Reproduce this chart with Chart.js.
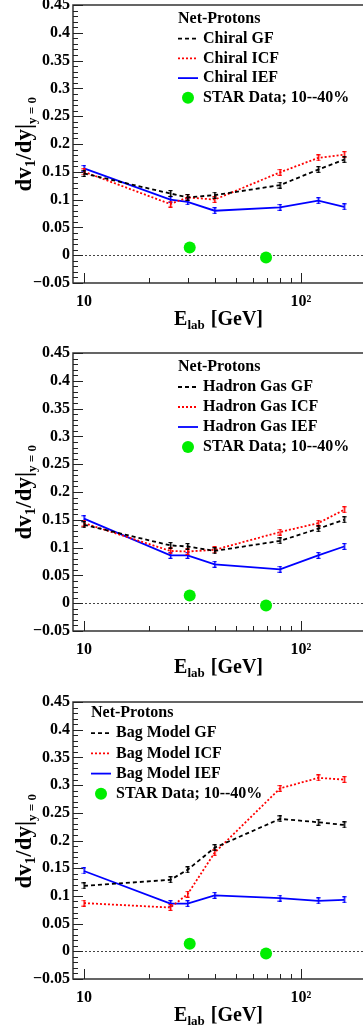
<!DOCTYPE html>
<html>
<head>
<meta charset="utf-8">
<script src="https://cdn.jsdelivr.net/npm/chart.js@4.4.1/dist/chart.umd.min.js"></script>
<style>
  body { margin: 0; background: #fff; }
  canvas { position: absolute; left: 0; }
</style>
</head>
<body>
<canvas id="c1" width="363" height="340" style="top:0px"></canvas>
<canvas id="c2" width="363" height="340" style="top:340px"></canvas>
<canvas id="c3" width="363" height="347" style="top:680px"></canvas>
<script>
'use strict';

// *** DATA ***

let energies = [10, 25, 30, 40, 80, 120, 158];

let chiralGF = [0.147, 0.111, 0.104, 0.108, 0.126, 0.154, 0.172];
let chiralICF = [0.150, 0.092, 0.104, 0.100, 0.149, 0.175, 0.181];
let chiralIEF = [0.156, 0.100, 0.096, 0.080, 0.086, 0.098, 0.087];

let hadronGF = [0.141, 0.104, 0.102, 0.094, 0.112, 0.134, 0.150];
let hadronICF = [0.144, 0.094, 0.093, 0.096, 0.128, 0.144, 0.168];
let hadronIEF = [0.152, 0.086, 0.086, 0.070, 0.061, 0.086, 0.102];

let bagGF = [0.118, 0.129, 0.147, 0.187, 0.239, 0.233, 0.228];
let bagICF = [0.087, 0.079, 0.103, 0.178, 0.294, 0.313, 0.310];
let bagIEF = [0.145, 0.086, 0.086, 0.101, 0.096, 0.091, 0.093];

let starEnergies = [30.7, 69];
let starV1 = [0.0138, -0.004];

let yTicks = [-0.05, 0, 0.05, 0.1, 0.15, 0.2, 0.25, 0.3, 0.35, 0.4, 0.45];
let yTickLabels = ['\u22120.05', '0', '0.05', '0.1', '0.15', '0.2', '0.25', '0.3', '0.35', '0.4', '0.45'];
let xTicks = [10, 100];
let xTickLabels = ['10', '10\u00B2'];

// *** LAYOUT (per panel) ***

let panels = [
  { id: 'c1', top: 5, bottom: 283, names: ['Chiral GF', 'Chiral ICF', 'Chiral IEF'],
    gf: chiralGF, icf: chiralICF, ief: chiralIEF, legX: 178, legY: 19, legStep: 19.7 },
  { id: 'c2', top: 13, bottom: 291, names: ['Hadron Gas GF', 'Hadron Gas ICF', 'Hadron Gas IEF'],
    gf: hadronGF, icf: hadronICF, ief: hadronIEF, legX: 178, legY: 27, legStep: 20 },
  { id: 'c3', top: 22, bottom: 299, names: ['Bag Model GF', 'Bag Model ICF', 'Bag Model IEF'],
    gf: bagGF, icf: bagICF, ief: bagIEF, legX: 91, legY: 33, legStep: 20.2 }
];

let SERIF = '"Liberation Serif", "DejaVu Serif", serif';

// *** HELPERS ***

function toPoints(xs, ys) {
  let pts = [];
  for (let i = 0; i < xs.length; i++) {
    pts.push({ x: xs[i], y: ys[i] });
  }
  return pts;
}

// little "I" shaped error mark used as point style
function errMark(color) {
  let c = document.createElement('canvas');
  c.width = 5;
  c.height = 7;
  let g = c.getContext('2d');
  g.fillStyle = color;
  g.fillRect(2, 0, 1.5, 7);
  g.fillRect(0.5, 0, 4, 1.2);
  g.fillRect(0.5, 5.8, 4, 1.2);
  return c;
}

function drawRich(ctx, parts, x, y) {
  let cx = x;
  for (let p of parts) {
    ctx.font = 'bold ' + p.size + 'px ' + SERIF;
    ctx.fillText(p.t, cx, y + (p.dy || 0));
    cx += ctx.measureText(p.t).width + (p.gap || 0);
  }
  return cx - x;
}

function richWidth(ctx, parts) {
  let w = 0;
  for (let p of parts) {
    ctx.font = 'bold ' + p.size + 'px ' + SERIF;
    w += ctx.measureText(p.t).width + (p.gap || 0);
  }
  return w;
}

// *** ROOT STYLE FRAME PLUGIN ***

let rootFrame = {
  id: 'rootFrame',
  beforeDatasetsDraw(chart) {
    let ctx = chart.ctx;
    let area = chart.chartArea;
    let y0 = Math.round(chart.scales.y.getPixelForValue(0)) + 0.5;
    ctx.save();
    ctx.strokeStyle = '#444';
    ctx.lineWidth = 1;
    ctx.setLineDash([2, 2]);
    ctx.beginPath();
    ctx.moveTo(area.left, y0);
    ctx.lineTo(area.right, y0);
    ctx.stroke();
    ctx.restore();
  },
  afterDraw(chart) {
    let ctx = chart.ctx;
    let area = chart.chartArea;
    let xs = chart.scales.x;
    let ys = chart.scales.y;
    let panel = chart.options.plugins.rootFrame.panel;

    ctx.save();
    // frame
    ctx.strokeStyle = '#333';
    ctx.lineWidth = 1.5;
    ctx.beginPath();
    ctx.moveTo(area.right + 2, area.top);
    ctx.lineTo(area.left, area.top);
    ctx.lineTo(area.left, area.bottom);
    ctx.lineTo(area.right + 2, area.bottom);
    ctx.stroke();

    // y ticks: major every 0.05, minor every 0.01
    ctx.lineWidth = 1;
    ctx.strokeStyle = '#222';
    ctx.beginPath();
    for (let k = -5; k <= 45; k++) {
      let py = Math.round(ys.getPixelForValue(k / 100)) + 0.5;
      let len = (k % 5 === 0) ? 10 : 5;
      ctx.moveTo(area.left, py);
      ctx.lineTo(area.left + len, py);
    }
    // x ticks (log)
    for (let d = 1; d <= 2; d++) {
      for (let m = 1; m <= 9; m++) {
        let v = m * Math.pow(10, d);
        if (v < xs.min || v > xs.max) continue;
        let px = Math.round(xs.getPixelForValue(v)) + 0.5;
        let len = (m === 1) ? 10 : 5;
        ctx.moveTo(px, area.bottom);
        ctx.lineTo(px, area.bottom - len);
      }
    }
    ctx.stroke();

    // axis titles
    ctx.fillStyle = '#000';
    ctx.textBaseline = 'alphabetic';
    let xParts = [
      { t: 'E', size: 20 },
      { t: 'lab', size: 13, dy: 4, gap: 1 },
      { t: ' [GeV]', size: 20 }
    ];
    drawRich(ctx, xParts, 263 - richWidth(ctx, xParts), area.bottom + 42);

    let yParts = [
      { t: 'dv', size: 23 },
      { t: '1', size: 15, dy: 4 },
      { t: '/dy|', size: 23 },
      { t: 'y = 0', size: 13, dy: 5 }
    ];
    ctx.save();
    ctx.translate(31, area.top + 92 + richWidth(ctx, yParts));
    ctx.rotate(-Math.PI / 2);
    drawRich(ctx, yParts, 0, 0);
    ctx.restore();

    // legend
    let lx = panel.legX;
    let ly = panel.legY;
    ctx.textBaseline = 'middle';
    ctx.font = 'bold 16px ' + SERIF;
    ctx.fillText('Net-Protons', lx, ly);
    let sets = chart.data.datasets;
    for (let i = 0; i < sets.length; i++) {
      let ds = sets[i];
      let cy = ly + panel.legStep * (i + 1);
      if (ds.showLine === false) {
        ctx.fillStyle = ds.backgroundColor;
        ctx.beginPath();
        ctx.arc(lx + 10, cy, 6, 0, Math.PI * 2);
        ctx.fill();
      } else {
        ctx.strokeStyle = ds.borderColor;
        ctx.lineWidth = ds.borderWidth;
        ctx.setLineDash(ds.borderDash || []);
        ctx.beginPath();
        ctx.moveTo(lx, cy);
        ctx.lineTo(lx + 20, cy);
        ctx.stroke();
        ctx.setLineDash([]);
      }
      ctx.fillStyle = '#000';
      ctx.fillText(ds.label, lx + 25, cy);
    }
    ctx.restore();
  }
};

// *** CHART CREATION ***

function renderPanel(panel) {
  let canvasElem = document.getElementById(panel.id);
  let H = canvasElem.height;

  let lineSet = function (label, values, color, dash) {
    return {
      label: label,
      data: toPoints(energies, values),
      borderColor: color,
      backgroundColor: color,
      borderWidth: 1.8,
      borderDash: dash,
      pointStyle: errMark(color),
      pointRadius: 3,
      pointHoverRadius: 3,
      tension: 0,
      showLine: true
    };
  };

  let myObj = {
    type: 'line',
    data: {
      datasets: [
        lineSet(panel.names[0], panel.gf, '#000000', [4, 3]),
        lineSet(panel.names[1], panel.icf, '#ff0000', [2, 2]),
        lineSet(panel.names[2], panel.ief, '#0000ff', []),
        {
          label: 'STAR Data; 10--40%',
          data: toPoints(starEnergies, starV1),
          showLine: false,
          backgroundColor: '#00ee00',
          borderColor: '#00ee00',
          borderWidth: 0,
          pointStyle: 'circle',
          pointRadius: 6,
          pointHoverRadius: 6
        }
      ]
    },
    options: {
      responsive: false,
      animation: false,
      events: [],
      layout: { autoPadding: false, padding: { top: panel.top, left: 0, right: 0, bottom: 0 } },
      plugins: {
        legend: { display: false },
        tooltip: { enabled: false },
        rootFrame: { panel: panel }
      },
      scales: {
        x: {
          type: 'logarithmic',
          min: 8.9,
          max: 193,
          grid: { display: false, drawTicks: false },
          border: { display: false },
          afterBuildTicks: function (scale) {
            scale.ticks = xTicks.map(v => ({ value: v }));
          },
          afterFit: function (scale) {
            scale.height = H - panel.bottom;
            scale.paddingLeft = 0;
            scale.paddingRight = 0;
          },
          ticks: {
            color: '#000',
            font: { family: SERIF, size: 16, weight: 'bold' },
            padding: 9,
            maxRotation: 0,
            autoSkip: false,
            callback: function (value, index) { return xTickLabels[index]; }
          }
        },
        y: {
          type: 'linear',
          min: -0.05,
          max: 0.45,
          grid: { display: false, drawTicks: false },
          border: { display: false },
          afterBuildTicks: function (scale) {
            scale.ticks = yTicks.map(v => ({ value: v }));
          },
          afterFit: function (scale) {
            scale.width = 73;
            scale.paddingTop = 0;
            scale.paddingBottom = 0;
          },
          ticks: {
            color: '#000',
            font: { family: SERIF, size: 16, weight: 'bold' },
            padding: 3,
            autoSkip: false,
            callback: function (value, index) { return yTickLabels[index]; }
          }
        }
      }
    },
    plugins: [rootFrame]
  };

  new Chart(canvasElem, myObj);
}

for (let i = 0; i < panels.length; i++) {
  renderPanel(panels[i]);
}
</script>
</body>
</html>
